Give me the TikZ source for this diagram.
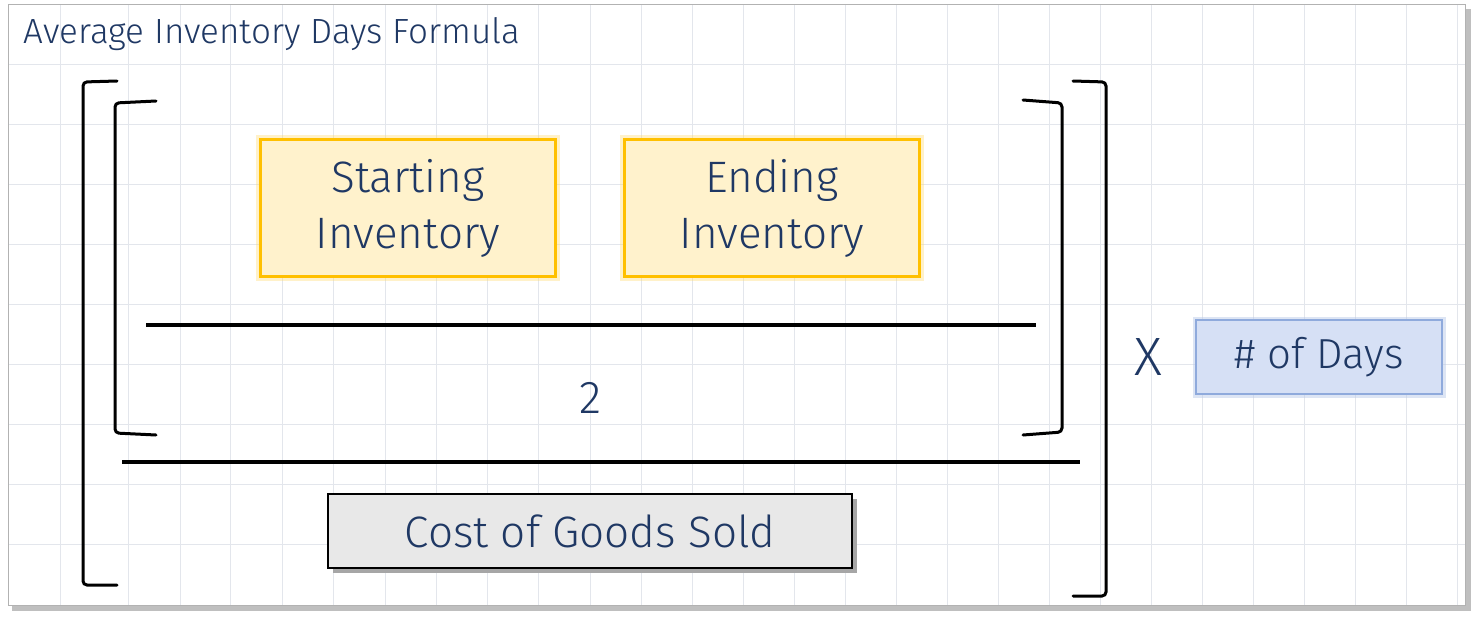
\documentclass[tikz,border=0pt]{standalone}
\usepackage{fontspec}
\setmainfont{Fira Sans Light}
\definecolor{navy}{HTML}{1F3864}
\definecolor{gridc}{HTML}{E3E6EC}
\definecolor{yfill}{HTML}{FFF2CC}
\definecolor{ydraw}{HTML}{FFC000}
\definecolor{bfill}{HTML}{D6E0F5}
\definecolor{bdraw}{HTML}{8FAADC}
\tikzset{
  bracket/.style={line width=3pt,black,line cap=round,rounded corners=4pt},
  bar/.style={line width=4pt,black},
  ybox/.style={draw=ydraw,fill=yfill,line width=3.5pt,minimum width=295pt,minimum height=137pt,align=center,text=navy,font=\fontsize{44}{56}\selectfont,inner sep=0pt},
  txt/.style={text=navy}
}
\begin{document}
\begin{tikzpicture}[x=1pt,y=-1pt]
\useasboundingbox (0,0) rectangle (1475,618);
\fill[black!25] (12,9) rectangle (1471,611);
\fill[white] (8,4) rectangle (1465,605);
\begin{scope}
\clip (8,4) rectangle (1465,605);
\foreach \x in {60,128,180,230,282,333,385,436,487,538,590,641,692,743,794,845,896,947,998,1049,1100,1151,1202,1253,1304,1355,1406,1457}
  \draw[gridc,line width=0.8pt] (\x,4) -- (\x,605);
\foreach \y in {64,124,184,244,304,364,424,484,544}
  \draw[gridc,line width=0.8pt] (8,\y) -- (1465,\y);
\end{scope}
\draw[black!30,line width=0.8pt] (8,4) rectangle (1465,605);
\node[txt,anchor=west,font=\fontsize{35}{40}\selectfont] (title) at (20,34) {Average Inventory Days Formula};
% outer bracket
\draw[bracket] (117,81) -- (83,82) -- (83,585) -- (117,585);
\draw[bracket] (1073,81) -- (1106,82) -- (1106,596) -- (1073,596);
% inner bracket
\draw[bracket] (156,101) -- (115,103) -- (115,433) -- (156,435);
\draw[bracket] (1023,100) -- (1062,103) -- (1062,432) -- (1023,435);
% boxes
\node[ybox,draw=ydraw!60,line width=9pt,opacity=0.35,fill=none] at (408,208) {};
\node[ybox] (start) at (408,208) {Starting\\Inventory};
\node[ybox,draw=ydraw!60,line width=9pt,opacity=0.35,fill=none] at (772,208) {};
\node[ybox] (end) at (772,208) {Ending\\Inventory};
\coordinate (b1l) at (146,325); \coordinate (b1r) at (1036,325);
\draw[bar] (b1l) -- (b1r);
\node[txt,font=\fontsize{46}{50}\selectfont] (two) at (591,398) {2};
\coordinate (b2l) at (122,462); \coordinate (b2r) at (1080,462);
\draw[bar] (b2l) -- (b2r);
\fill[black!35] (333,499) rectangle (857,573);
\node[draw=black,line width=1.2pt,fill=black!9,minimum width=524pt,minimum height=74pt,text=navy,font=\fontsize{44}{50}\selectfont,inner sep=0pt] (cogs) at (590,531) {Cost of Goods Sold};
\node[txt,font=\fontsize{54}{58}\selectfont] (times) at (1148,357) {X};
\node[draw=bdraw!60,line width=7pt,opacity=0.5,minimum width=246pt,minimum height=74pt] at (1319,357) {};
\node[draw=bdraw,fill=bfill,line width=2pt,minimum width=246pt,minimum height=74pt,text=navy,font=\fontsize{42}{48}\selectfont,inner sep=0pt] (days) at (1319,357) {\# of Days};
\end{tikzpicture}
\end{document}
